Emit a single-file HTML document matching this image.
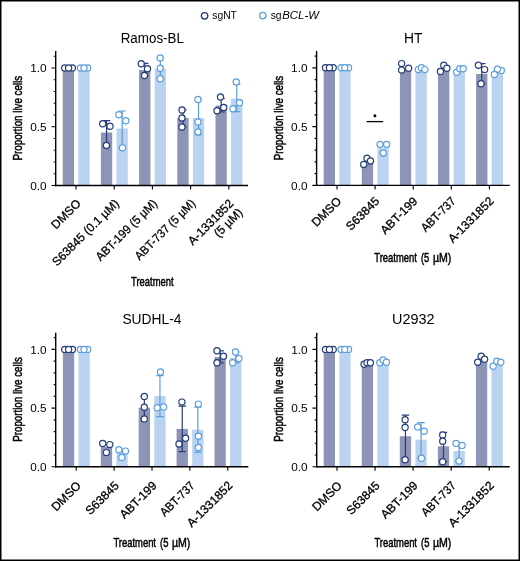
<!DOCTYPE html><html><head><meta charset="utf-8"><style>html,body{margin:0;padding:0;background:#fff;}svg{display:block;will-change:transform;}text{stroke:#000;stroke-width:0.3px;}.b{stroke-width:0.5px;}.n{stroke:none;}</style></head><body>
<svg width="520" height="561" viewBox="0 0 520 561" font-family='"Liberation Sans", sans-serif' fill="#000">
<rect x="0" y="0" width="520" height="561" fill="#fff"/>
<circle cx="204.6" cy="15.8" r="3.2" fill="#fff" stroke="#263e78" stroke-width="1.35"/>
<text x="212.3" y="19.3" font-size="10.3" class="n" textLength="24.6" lengthAdjust="spacingAndGlyphs">sgNT</text>
<circle cx="262.8" cy="15.6" r="3.2" fill="#fff" stroke="#5b9fdc" stroke-width="1.35"/>
<text x="270.7" y="19.3" font-size="10.3" class="n">sg</text>
<text x="282.3" y="19.3" font-size="10.3" class="n" font-style="italic" textLength="36.6" lengthAdjust="spacingAndGlyphs">BCL-W</text>
<text x="152.3" y="42.6" text-anchor="middle" font-size="13.8" class="n" textLength="63.2" lengthAdjust="spacingAndGlyphs">Ramos-BL</text>
<rect x="62.7" y="68" width="11.3" height="117.5" fill="#8e94b8"/>
<rect x="78.3" y="68" width="11.3" height="117.5" fill="#b9d3f0"/>
<rect x="100.9" y="132.5" width="11.3" height="53" fill="#8e94b8"/>
<rect x="116.5" y="128.5" width="11.3" height="57" fill="#b9d3f0"/>
<rect x="139.1" y="70" width="11.3" height="115.5" fill="#8e94b8"/>
<rect x="154.7" y="68.75" width="11.3" height="116.75" fill="#b9d3f0"/>
<rect x="177.3" y="118" width="11.3" height="67.5" fill="#8e94b8"/>
<rect x="192.9" y="118" width="11.3" height="67.5" fill="#b9d3f0"/>
<rect x="215.5" y="105.5" width="11.3" height="80" fill="#8e94b8"/>
<rect x="231.1" y="98.75" width="11.3" height="86.75" fill="#b9d3f0"/>
<path d="M106.55 120.57V145.5M102.85 120.57H110.25M102.85 145.5H110.25" stroke="#263e78" stroke-width="1.2" fill="none"/>
<path d="M122.15 110.98V147.7M118.45 110.98H125.85M118.45 147.7H125.85" stroke="#5b9fdc" stroke-width="1.2" fill="none"/>
<path d="M144.75 63.3V76M141.05 63.3H148.45M141.05 76H148.45" stroke="#263e78" stroke-width="1.2" fill="none"/>
<path d="M160.35 58V78.75M156.65 58H164.05M156.65 78.75H164.05" stroke="#5b9fdc" stroke-width="1.2" fill="none"/>
<path d="M182.95 110V127M179.25 110H186.65M179.25 127H186.65" stroke="#263e78" stroke-width="1.2" fill="none"/>
<path d="M198.55 99.5V134.65M194.85 99.5H202.25M194.85 134.65H202.25" stroke="#5b9fdc" stroke-width="1.2" fill="none"/>
<path d="M221.15 98.5V112M217.45 98.5H224.85M217.45 112H224.85" stroke="#263e78" stroke-width="1.2" fill="none"/>
<path d="M236.75 84.5V111.6M233.05 84.5H240.45M233.05 111.6H240.45" stroke="#5b9fdc" stroke-width="1.2" fill="none"/>
<circle cx="64.7" cy="68" r="3.1" fill="#fff" stroke="#263e78" stroke-width="1.2"/>
<circle cx="72.4" cy="68" r="3.1" fill="#fff" stroke="#263e78" stroke-width="1.2"/>
<circle cx="68.6" cy="68" r="3.1" fill="#fff" stroke="#263e78" stroke-width="1.2"/>
<circle cx="80.4" cy="68" r="3.1" fill="#fff" stroke="#5b9fdc" stroke-width="1.2"/>
<circle cx="87.7" cy="68" r="3.1" fill="#fff" stroke="#5b9fdc" stroke-width="1.2"/>
<circle cx="84" cy="68" r="3.1" fill="#fff" stroke="#5b9fdc" stroke-width="1.2"/>
<circle cx="102.7" cy="123.7" r="3.1" fill="#fff" stroke="#263e78" stroke-width="1.2"/>
<circle cx="110" cy="126.2" r="3.1" fill="#fff" stroke="#263e78" stroke-width="1.2"/>
<circle cx="106.4" cy="145.5" r="3.1" fill="#fff" stroke="#263e78" stroke-width="1.2"/>
<circle cx="118.8" cy="114.8" r="3.1" fill="#fff" stroke="#5b9fdc" stroke-width="1.2"/>
<circle cx="125.8" cy="120.8" r="3.1" fill="#fff" stroke="#5b9fdc" stroke-width="1.2"/>
<circle cx="122.5" cy="147.7" r="3.1" fill="#fff" stroke="#5b9fdc" stroke-width="1.2"/>
<circle cx="141.25" cy="63.75" r="3.1" fill="#fff" stroke="#263e78" stroke-width="1.2"/>
<circle cx="147.5" cy="68.75" r="3.1" fill="#fff" stroke="#263e78" stroke-width="1.2"/>
<circle cx="144.5" cy="75.5" r="3.1" fill="#fff" stroke="#263e78" stroke-width="1.2"/>
<circle cx="160.25" cy="58" r="3.1" fill="#fff" stroke="#5b9fdc" stroke-width="1.2"/>
<circle cx="160.25" cy="68.25" r="3.1" fill="#fff" stroke="#5b9fdc" stroke-width="1.2"/>
<circle cx="160.25" cy="78.75" r="3.1" fill="#fff" stroke="#5b9fdc" stroke-width="1.2"/>
<circle cx="182" cy="110" r="3.1" fill="#fff" stroke="#263e78" stroke-width="1.2"/>
<circle cx="182" cy="118" r="3.1" fill="#fff" stroke="#263e78" stroke-width="1.2"/>
<circle cx="182" cy="127" r="3.1" fill="#fff" stroke="#263e78" stroke-width="1.2"/>
<circle cx="198" cy="99.5" r="3.1" fill="#fff" stroke="#5b9fdc" stroke-width="1.2"/>
<circle cx="198" cy="122" r="3.1" fill="#fff" stroke="#5b9fdc" stroke-width="1.2"/>
<circle cx="198" cy="132" r="3.1" fill="#fff" stroke="#5b9fdc" stroke-width="1.2"/>
<circle cx="220.5" cy="97" r="3.1" fill="#fff" stroke="#263e78" stroke-width="1.2"/>
<circle cx="223.75" cy="107.5" r="3.1" fill="#fff" stroke="#263e78" stroke-width="1.2"/>
<circle cx="217" cy="110.75" r="3.1" fill="#fff" stroke="#263e78" stroke-width="1.2"/>
<circle cx="236.25" cy="82" r="3.1" fill="#fff" stroke="#5b9fdc" stroke-width="1.2"/>
<circle cx="239.5" cy="102.75" r="3.1" fill="#fff" stroke="#5b9fdc" stroke-width="1.2"/>
<circle cx="233" cy="108.75" r="3.1" fill="#fff" stroke="#5b9fdc" stroke-width="1.2"/>
<path d="M55.7 51V186.2" stroke="#000" stroke-width="1.4" fill="none"/>
<path d="M51.5 185.5H55.7M53.7 173.75H55.7M53.7 162H55.7M53.7 150.25H55.7M53.7 138.5H55.7M51.5 126.75H55.7M53.7 115H55.7M53.7 103.25H55.7M53.7 91.5H55.7M53.7 79.75H55.7M51.5 68H55.7M53.7 56.25H55.7" stroke="#000" stroke-width="1.1" fill="none"/>
<text x="46.6" y="72.1" text-anchor="end" font-size="11.8" class="n">1.0</text>
<text x="46.6" y="130.85" text-anchor="end" font-size="11.8" class="n">0.5</text>
<text x="46.6" y="189.6" text-anchor="end" font-size="11.8" class="n">0.0</text>
<path d="M55 185.5H248" stroke="#000" stroke-width="1.4" fill="none"/>
<path d="M76 185.5V189.5M114.2 185.5V189.5M152.4 185.5V189.5M190.6 185.5V189.5M228.8 185.5V189.5" stroke="#000" stroke-width="1.1" fill="none"/>
<text transform="translate(81.5 204.2) rotate(-45)" text-anchor="end" font-size="12">DMSO</text>
<text transform="translate(119.7 204.2) rotate(-45)" text-anchor="end" font-size="12" textLength="88.6" lengthAdjust="spacingAndGlyphs">S63845 (0.1 µM)</text>
<text transform="translate(157.9 204.2) rotate(-45)" text-anchor="end" font-size="12" textLength="81" lengthAdjust="spacingAndGlyphs">ABT-199 (5 µM)</text>
<text transform="translate(196.1 204.2) rotate(-45)" text-anchor="end" font-size="12" textLength="80" lengthAdjust="spacingAndGlyphs">ABT-737 (5 µM)</text>
<text transform="translate(234.3 204.2) rotate(-45)" text-anchor="end" font-size="12"><tspan x="0" y="0">A-1331852</tspan><tspan x="0" y="12.8">(5 µM)</tspan></text>
<text transform="translate(22.4 118.2) rotate(-90)" text-anchor="middle" font-size="13.2" textLength="84.5" lengthAdjust="spacingAndGlyphs" class="b">Proportion live cells</text>
<text x="131" y="285.8" textLength="42.6" font-size="13.4" lengthAdjust="spacingAndGlyphs" class="b">Treatment</text>
<text x="413.3" y="42.6" text-anchor="middle" font-size="13.8" class="n">HT</text>
<rect x="323.7" y="67.7" width="11.3" height="117.7" fill="#8e94b8"/>
<rect x="339.3" y="67.7" width="11.3" height="117.7" fill="#b9d3f0"/>
<rect x="361.8" y="164" width="11.3" height="21.4" fill="#8e94b8"/>
<rect x="377.4" y="148.3" width="11.3" height="37.1" fill="#b9d3f0"/>
<rect x="399.9" y="69.6" width="11.3" height="115.8" fill="#8e94b8"/>
<rect x="415.5" y="70.9" width="11.3" height="114.5" fill="#b9d3f0"/>
<rect x="438" y="70" width="11.3" height="115.4" fill="#8e94b8"/>
<rect x="453.6" y="70.9" width="11.3" height="114.5" fill="#b9d3f0"/>
<rect x="476.1" y="74" width="11.3" height="111.4" fill="#8e94b8"/>
<rect x="491.7" y="72.2" width="11.3" height="113.2" fill="#b9d3f0"/>
<path d="M481.75 63.6V83.8M478.05 63.6H485.45M478.05 83.8H485.45" stroke="#263e78" stroke-width="1.2" fill="none"/>
<circle cx="325.5" cy="67.7" r="3.1" fill="#fff" stroke="#263e78" stroke-width="1.2"/>
<circle cx="333.2" cy="67.7" r="3.1" fill="#fff" stroke="#263e78" stroke-width="1.2"/>
<circle cx="329.4" cy="67.7" r="3.1" fill="#fff" stroke="#263e78" stroke-width="1.2"/>
<circle cx="341.2" cy="67.7" r="3.1" fill="#fff" stroke="#5b9fdc" stroke-width="1.2"/>
<circle cx="348.5" cy="67.7" r="3.1" fill="#fff" stroke="#5b9fdc" stroke-width="1.2"/>
<circle cx="344.8" cy="67.7" r="3.1" fill="#fff" stroke="#5b9fdc" stroke-width="1.2"/>
<circle cx="363.7" cy="164.5" r="3.1" fill="#fff" stroke="#263e78" stroke-width="1.2"/>
<circle cx="367" cy="158.2" r="3.1" fill="#fff" stroke="#263e78" stroke-width="1.2"/>
<circle cx="370.5" cy="161" r="3.1" fill="#fff" stroke="#263e78" stroke-width="1.2"/>
<circle cx="380.1" cy="144.5" r="3.1" fill="#fff" stroke="#5b9fdc" stroke-width="1.2"/>
<circle cx="386.6" cy="144.5" r="3.1" fill="#fff" stroke="#5b9fdc" stroke-width="1.2"/>
<circle cx="383.2" cy="153" r="3.1" fill="#fff" stroke="#5b9fdc" stroke-width="1.2"/>
<circle cx="401.6" cy="63.6" r="3.1" fill="#fff" stroke="#263e78" stroke-width="1.2"/>
<circle cx="401.6" cy="70.1" r="3.1" fill="#fff" stroke="#263e78" stroke-width="1.2"/>
<circle cx="408.6" cy="68.3" r="3.1" fill="#fff" stroke="#263e78" stroke-width="1.2"/>
<circle cx="418.4" cy="69.6" r="3.1" fill="#fff" stroke="#5b9fdc" stroke-width="1.2"/>
<circle cx="421.5" cy="67.8" r="3.1" fill="#fff" stroke="#5b9fdc" stroke-width="1.2"/>
<circle cx="424.9" cy="69.6" r="3.1" fill="#fff" stroke="#5b9fdc" stroke-width="1.2"/>
<circle cx="440.4" cy="71.4" r="3.1" fill="#fff" stroke="#263e78" stroke-width="1.2"/>
<circle cx="443.8" cy="65.2" r="3.1" fill="#fff" stroke="#263e78" stroke-width="1.2"/>
<circle cx="446.9" cy="68.3" r="3.1" fill="#fff" stroke="#263e78" stroke-width="1.2"/>
<circle cx="456.7" cy="72.2" r="3.1" fill="#fff" stroke="#5b9fdc" stroke-width="1.2"/>
<circle cx="459.8" cy="68.8" r="3.1" fill="#fff" stroke="#5b9fdc" stroke-width="1.2"/>
<circle cx="463.2" cy="68.8" r="3.1" fill="#fff" stroke="#5b9fdc" stroke-width="1.2"/>
<circle cx="478.4" cy="65.2" r="3.1" fill="#fff" stroke="#263e78" stroke-width="1.2"/>
<circle cx="484.6" cy="69.6" r="3.1" fill="#fff" stroke="#263e78" stroke-width="1.2"/>
<circle cx="481" cy="83.8" r="3.1" fill="#fff" stroke="#263e78" stroke-width="1.2"/>
<circle cx="501.3" cy="70.4" r="3.1" fill="#fff" stroke="#5b9fdc" stroke-width="1.2"/>
<circle cx="497.4" cy="69.3" r="3.1" fill="#fff" stroke="#5b9fdc" stroke-width="1.2"/>
<circle cx="494.4" cy="74.5" r="3.1" fill="#fff" stroke="#5b9fdc" stroke-width="1.2"/>
<path d="M316.6 51V186.1" stroke="#000" stroke-width="1.4" fill="none"/>
<path d="M312.4 185.4H316.6M314.6 173.65H316.6M314.6 161.9H316.6M314.6 150.15H316.6M314.6 138.4H316.6M312.4 126.65H316.6M314.6 114.9H316.6M314.6 103.15H316.6M314.6 91.4H316.6M314.6 79.65H316.6M312.4 67.9H316.6M314.6 56.15H316.6" stroke="#000" stroke-width="1.1" fill="none"/>
<text x="307.5" y="72" text-anchor="end" font-size="11.8" class="n">1.0</text>
<text x="307.5" y="130.75" text-anchor="end" font-size="11.8" class="n">0.5</text>
<text x="307.5" y="189.5" text-anchor="end" font-size="11.8" class="n">0.0</text>
<path d="M315.9 185.4H509.8" stroke="#000" stroke-width="1.4" fill="none"/>
<path d="M337 185.4V189.4M375.1 185.4V189.4M413.2 185.4V189.4M451.3 185.4V189.4M489.4 185.4V189.4" stroke="#000" stroke-width="1.1" fill="none"/>
<text transform="translate(342 201.9) rotate(-45)" text-anchor="end" font-size="12">DMSO</text>
<text transform="translate(380.1 201.9) rotate(-45)" text-anchor="end" font-size="12">S63845</text>
<text transform="translate(418.2 201.9) rotate(-45)" text-anchor="end" font-size="12">ABT-199</text>
<text transform="translate(456.3 201.9) rotate(-45)" text-anchor="end" font-size="12" textLength="43.3" lengthAdjust="spacingAndGlyphs">ABT-737</text>
<text transform="translate(494.4 201.9) rotate(-45)" text-anchor="end" font-size="12">A-1331852</text>
<text transform="translate(283.3 118.1) rotate(-90)" text-anchor="middle" font-size="13.2" textLength="84.5" lengthAdjust="spacingAndGlyphs" class="b">Proportion live cells</text>
<text x="374.3" y="261.9" textLength="42.6" font-size="13.4" lengthAdjust="spacingAndGlyphs" class="b">Treatment</text>
<text x="420.9" y="261.9" textLength="8.4" font-size="13.4" lengthAdjust="spacingAndGlyphs" class="b">(5</text>
<text x="432.9" y="261.9" textLength="18.4" font-size="13.4" lengthAdjust="spacingAndGlyphs" class="b">µM)</text>
<path d="M366.6 121.6H383.2" stroke="#000" stroke-width="1.3"/>
<circle cx="374.9" cy="115.8" r="1.5" fill="#000"/>
<text x="151.9" y="324" text-anchor="middle" font-size="13.8" class="n">SUDHL-4</text>
<rect x="62.9" y="349.4" width="11.3" height="117.4" fill="#8e94b8"/>
<rect x="78.5" y="349.4" width="11.3" height="117.4" fill="#b9d3f0"/>
<rect x="100.8" y="446.9" width="11.3" height="19.9" fill="#8e94b8"/>
<rect x="116.4" y="451.7" width="11.3" height="15.1" fill="#b9d3f0"/>
<rect x="138.7" y="407.8" width="11.3" height="59" fill="#8e94b8"/>
<rect x="154.3" y="396.1" width="11.3" height="70.7" fill="#b9d3f0"/>
<rect x="176.6" y="428.9" width="11.3" height="37.9" fill="#8e94b8"/>
<rect x="192.2" y="429.7" width="11.3" height="37.1" fill="#b9d3f0"/>
<rect x="214.5" y="357.1" width="11.3" height="109.7" fill="#8e94b8"/>
<rect x="230.1" y="357.8" width="11.3" height="109" fill="#b9d3f0"/>
<path d="M144.35 396.4V418.9M140.65 396.4H148.05M140.65 418.9H148.05" stroke="#263e78" stroke-width="1.2" fill="none"/>
<path d="M159.95 375.63V416.57M156.25 375.63H163.65M156.25 416.57H163.65" stroke="#5b9fdc" stroke-width="1.2" fill="none"/>
<path d="M182.25 406.18V451.62M178.55 406.18H185.95M178.55 451.62H185.95" stroke="#263e78" stroke-width="1.2" fill="none"/>
<path d="M197.85 407.21V452.19M194.15 407.21H201.55M194.15 452.19H201.55" stroke="#5b9fdc" stroke-width="1.2" fill="none"/>
<path d="M220.15 350.8V362.8M216.45 350.8H223.85M216.45 362.8H223.85" stroke="#263e78" stroke-width="1.2" fill="none"/>
<path d="M235.75 351.9V362.8M232.05 351.9H239.45M232.05 362.8H239.45" stroke="#5b9fdc" stroke-width="1.2" fill="none"/>
<circle cx="64.7" cy="349.4" r="3.1" fill="#fff" stroke="#263e78" stroke-width="1.2"/>
<circle cx="72.4" cy="349.4" r="3.1" fill="#fff" stroke="#263e78" stroke-width="1.2"/>
<circle cx="68.6" cy="349.4" r="3.1" fill="#fff" stroke="#263e78" stroke-width="1.2"/>
<circle cx="80.4" cy="349.4" r="3.1" fill="#fff" stroke="#5b9fdc" stroke-width="1.2"/>
<circle cx="87.7" cy="349.4" r="3.1" fill="#fff" stroke="#5b9fdc" stroke-width="1.2"/>
<circle cx="84" cy="349.4" r="3.1" fill="#fff" stroke="#5b9fdc" stroke-width="1.2"/>
<circle cx="102.7" cy="443.4" r="3.1" fill="#fff" stroke="#263e78" stroke-width="1.2"/>
<circle cx="109.8" cy="444.6" r="3.1" fill="#fff" stroke="#263e78" stroke-width="1.2"/>
<circle cx="106.4" cy="452.6" r="3.1" fill="#fff" stroke="#263e78" stroke-width="1.2"/>
<circle cx="118.9" cy="449.7" r="3.1" fill="#fff" stroke="#5b9fdc" stroke-width="1.2"/>
<circle cx="125.5" cy="451.1" r="3.1" fill="#fff" stroke="#5b9fdc" stroke-width="1.2"/>
<circle cx="121.8" cy="457.4" r="3.1" fill="#fff" stroke="#5b9fdc" stroke-width="1.2"/>
<circle cx="144.3" cy="396.4" r="3.1" fill="#fff" stroke="#263e78" stroke-width="1.2"/>
<circle cx="144.3" cy="407.2" r="3.1" fill="#fff" stroke="#263e78" stroke-width="1.2"/>
<circle cx="144.3" cy="418.9" r="3.1" fill="#fff" stroke="#263e78" stroke-width="1.2"/>
<circle cx="160.5" cy="371.9" r="3.1" fill="#fff" stroke="#5b9fdc" stroke-width="1.2"/>
<circle cx="157.1" cy="407.8" r="3.1" fill="#fff" stroke="#5b9fdc" stroke-width="1.2"/>
<circle cx="163.6" cy="406.9" r="3.1" fill="#fff" stroke="#5b9fdc" stroke-width="1.2"/>
<circle cx="181.9" cy="402.1" r="3.1" fill="#fff" stroke="#263e78" stroke-width="1.2"/>
<circle cx="179" cy="444" r="3.1" fill="#fff" stroke="#263e78" stroke-width="1.2"/>
<circle cx="185.6" cy="438.3" r="3.1" fill="#fff" stroke="#263e78" stroke-width="1.2"/>
<circle cx="198.4" cy="404.1" r="3.1" fill="#fff" stroke="#5b9fdc" stroke-width="1.2"/>
<circle cx="198.4" cy="436.3" r="3.1" fill="#fff" stroke="#5b9fdc" stroke-width="1.2"/>
<circle cx="198.4" cy="447.4" r="3.1" fill="#fff" stroke="#5b9fdc" stroke-width="1.2"/>
<circle cx="217" cy="350.8" r="3.1" fill="#fff" stroke="#263e78" stroke-width="1.2"/>
<circle cx="223.5" cy="356.2" r="3.1" fill="#fff" stroke="#263e78" stroke-width="1.2"/>
<circle cx="217" cy="362.8" r="3.1" fill="#fff" stroke="#263e78" stroke-width="1.2"/>
<circle cx="235.5" cy="351.9" r="3.1" fill="#fff" stroke="#5b9fdc" stroke-width="1.2"/>
<circle cx="238.9" cy="358.5" r="3.1" fill="#fff" stroke="#5b9fdc" stroke-width="1.2"/>
<circle cx="232.6" cy="362.8" r="3.1" fill="#fff" stroke="#5b9fdc" stroke-width="1.2"/>
<path d="M55.7 332.8V467.5" stroke="#000" stroke-width="1.4" fill="none"/>
<path d="M51.5 466.8H55.7M53.7 455.06H55.7M53.7 443.32H55.7M53.7 431.58H55.7M53.7 419.84H55.7M51.5 408.1H55.7M53.7 396.36H55.7M53.7 384.62H55.7M53.7 372.88H55.7M53.7 361.14H55.7M51.5 349.4H55.7M53.7 337.66H55.7" stroke="#000" stroke-width="1.1" fill="none"/>
<text x="46.6" y="353.5" text-anchor="end" font-size="11.8" class="n">1.0</text>
<text x="46.6" y="412.2" text-anchor="end" font-size="11.8" class="n">0.5</text>
<text x="46.6" y="470.9" text-anchor="end" font-size="11.8" class="n">0.0</text>
<path d="M55 466.8H248.3" stroke="#000" stroke-width="1.4" fill="none"/>
<path d="M76.2 466.8V470.8M114.1 466.8V470.8M152 466.8V470.8M189.9 466.8V470.8M227.8 466.8V470.8" stroke="#000" stroke-width="1.1" fill="none"/>
<text transform="translate(81.7 486.3) rotate(-45)" text-anchor="end" font-size="12">DMSO</text>
<text transform="translate(119.6 486.3) rotate(-45)" text-anchor="end" font-size="12">S63845</text>
<text transform="translate(157.5 486.3) rotate(-45)" text-anchor="end" font-size="12">ABT-199</text>
<text transform="translate(195.4 486.3) rotate(-45)" text-anchor="end" font-size="12" textLength="43.3" lengthAdjust="spacingAndGlyphs">ABT-737</text>
<text transform="translate(233.3 486.3) rotate(-45)" text-anchor="end" font-size="12">A-1331852</text>
<text transform="translate(22.4 399.5) rotate(-90)" text-anchor="middle" font-size="13.2" textLength="84.5" lengthAdjust="spacingAndGlyphs" class="b">Proportion live cells</text>
<text x="113.4" y="546.5" textLength="42.6" font-size="13.4" lengthAdjust="spacingAndGlyphs" class="b">Treatment</text>
<text x="160" y="546.5" textLength="8.4" font-size="13.4" lengthAdjust="spacingAndGlyphs" class="b">(5</text>
<text x="172" y="546.5" textLength="18.4" font-size="13.4" lengthAdjust="spacingAndGlyphs" class="b">µM)</text>
<text x="413.3" y="324.2" text-anchor="middle" font-size="13.8" class="n" textLength="42.5" lengthAdjust="spacingAndGlyphs">U2932</text>
<rect x="323.7" y="349.4" width="11.3" height="117.4" fill="#8e94b8"/>
<rect x="339.3" y="349.4" width="11.3" height="117.4" fill="#b9d3f0"/>
<rect x="361.75" y="363.3" width="11.3" height="103.5" fill="#8e94b8"/>
<rect x="377.35" y="362.8" width="11.3" height="104" fill="#b9d3f0"/>
<rect x="399.8" y="436.3" width="11.3" height="30.5" fill="#8e94b8"/>
<rect x="415.4" y="439.7" width="11.3" height="27.1" fill="#b9d3f0"/>
<rect x="437.85" y="446.3" width="11.3" height="20.5" fill="#8e94b8"/>
<rect x="453.45" y="451.1" width="11.3" height="15.7" fill="#b9d3f0"/>
<rect x="475.9" y="360.5" width="11.3" height="106.3" fill="#8e94b8"/>
<rect x="491.5" y="364.2" width="11.3" height="102.6" fill="#b9d3f0"/>
<path d="M405.45 415.13V459.7M401.75 415.13H409.15M401.75 459.7H409.15" stroke="#263e78" stroke-width="1.2" fill="none"/>
<path d="M421.05 422.68V458.3M417.35 422.68H424.75M417.35 458.3H424.75" stroke="#5b9fdc" stroke-width="1.2" fill="none"/>
<path d="M443.5 432.29V461.7M439.8 432.29H447.2M439.8 461.7H447.2" stroke="#263e78" stroke-width="1.2" fill="none"/>
<path d="M459.1 443.4V461.1M455.4 443.4H462.8M455.4 461.1H462.8" stroke="#5b9fdc" stroke-width="1.2" fill="none"/>
<circle cx="325.5" cy="349.4" r="3.1" fill="#fff" stroke="#263e78" stroke-width="1.2"/>
<circle cx="333.2" cy="349.4" r="3.1" fill="#fff" stroke="#263e78" stroke-width="1.2"/>
<circle cx="329.4" cy="349.4" r="3.1" fill="#fff" stroke="#263e78" stroke-width="1.2"/>
<circle cx="341.2" cy="349.4" r="3.1" fill="#fff" stroke="#5b9fdc" stroke-width="1.2"/>
<circle cx="348.5" cy="349.4" r="3.1" fill="#fff" stroke="#5b9fdc" stroke-width="1.2"/>
<circle cx="344.8" cy="349.4" r="3.1" fill="#fff" stroke="#5b9fdc" stroke-width="1.2"/>
<circle cx="364.1" cy="364.2" r="3.1" fill="#fff" stroke="#263e78" stroke-width="1.2"/>
<circle cx="367" cy="362.8" r="3.1" fill="#fff" stroke="#263e78" stroke-width="1.2"/>
<circle cx="370.4" cy="362.8" r="3.1" fill="#fff" stroke="#263e78" stroke-width="1.2"/>
<circle cx="379.8" cy="362.8" r="3.1" fill="#fff" stroke="#5b9fdc" stroke-width="1.2"/>
<circle cx="383.2" cy="359.9" r="3.1" fill="#fff" stroke="#5b9fdc" stroke-width="1.2"/>
<circle cx="386.4" cy="362.2" r="3.1" fill="#fff" stroke="#5b9fdc" stroke-width="1.2"/>
<circle cx="405.1" cy="419.8" r="3.1" fill="#fff" stroke="#263e78" stroke-width="1.2"/>
<circle cx="405.1" cy="427.5" r="3.1" fill="#fff" stroke="#263e78" stroke-width="1.2"/>
<circle cx="405.1" cy="459.7" r="3.1" fill="#fff" stroke="#263e78" stroke-width="1.2"/>
<circle cx="417.7" cy="426.9" r="3.1" fill="#fff" stroke="#5b9fdc" stroke-width="1.2"/>
<circle cx="424.2" cy="431.2" r="3.1" fill="#fff" stroke="#5b9fdc" stroke-width="1.2"/>
<circle cx="421.4" cy="458.3" r="3.1" fill="#fff" stroke="#5b9fdc" stroke-width="1.2"/>
<circle cx="442.7" cy="434.9" r="3.1" fill="#fff" stroke="#263e78" stroke-width="1.2"/>
<circle cx="442.7" cy="441.2" r="3.1" fill="#fff" stroke="#263e78" stroke-width="1.2"/>
<circle cx="442.7" cy="461.7" r="3.1" fill="#fff" stroke="#263e78" stroke-width="1.2"/>
<circle cx="456.1" cy="443.4" r="3.1" fill="#fff" stroke="#5b9fdc" stroke-width="1.2"/>
<circle cx="462.1" cy="445.4" r="3.1" fill="#fff" stroke="#5b9fdc" stroke-width="1.2"/>
<circle cx="459" cy="461.1" r="3.1" fill="#fff" stroke="#5b9fdc" stroke-width="1.2"/>
<circle cx="477.7" cy="362.3" r="3.1" fill="#fff" stroke="#263e78" stroke-width="1.2"/>
<circle cx="481.2" cy="356.2" r="3.1" fill="#fff" stroke="#263e78" stroke-width="1.2"/>
<circle cx="484.6" cy="359.2" r="3.1" fill="#fff" stroke="#263e78" stroke-width="1.2"/>
<circle cx="493.1" cy="366.2" r="3.1" fill="#fff" stroke="#5b9fdc" stroke-width="1.2"/>
<circle cx="496.9" cy="361.2" r="3.1" fill="#fff" stroke="#5b9fdc" stroke-width="1.2"/>
<circle cx="500.8" cy="362.3" r="3.1" fill="#fff" stroke="#5b9fdc" stroke-width="1.2"/>
<path d="M316.7 332.8V467.5" stroke="#000" stroke-width="1.4" fill="none"/>
<path d="M312.5 466.8H316.7M314.7 455.06H316.7M314.7 443.32H316.7M314.7 431.58H316.7M314.7 419.84H316.7M312.5 408.1H316.7M314.7 396.36H316.7M314.7 384.62H316.7M314.7 372.88H316.7M314.7 361.14H316.7M312.5 349.4H316.7M314.7 337.66H316.7" stroke="#000" stroke-width="1.1" fill="none"/>
<text x="307.6" y="353.5" text-anchor="end" font-size="11.8" class="n">1.0</text>
<text x="307.6" y="412.2" text-anchor="end" font-size="11.8" class="n">0.5</text>
<text x="307.6" y="470.9" text-anchor="end" font-size="11.8" class="n">0.0</text>
<path d="M316 466.8H509.7" stroke="#000" stroke-width="1.4" fill="none"/>
<path d="M337 466.8V470.8M375.05 466.8V470.8M413.1 466.8V470.8M451.15 466.8V470.8M489.2 466.8V470.8" stroke="#000" stroke-width="1.1" fill="none"/>
<text transform="translate(342.5 486.3) rotate(-45)" text-anchor="end" font-size="12">DMSO</text>
<text transform="translate(380.55 486.3) rotate(-45)" text-anchor="end" font-size="12">S63845</text>
<text transform="translate(418.6 486.3) rotate(-45)" text-anchor="end" font-size="12">ABT-199</text>
<text transform="translate(456.65 486.3) rotate(-45)" text-anchor="end" font-size="12" textLength="43.3" lengthAdjust="spacingAndGlyphs">ABT-737</text>
<text transform="translate(494.7 486.3) rotate(-45)" text-anchor="end" font-size="12">A-1331852</text>
<text transform="translate(283.4 399.5) rotate(-90)" text-anchor="middle" font-size="13.2" textLength="84.5" lengthAdjust="spacingAndGlyphs" class="b">Proportion live cells</text>
<text x="374.4" y="546.8" textLength="42.6" font-size="13.4" lengthAdjust="spacingAndGlyphs" class="b">Treatment</text>
<text x="421" y="546.8" textLength="8.4" font-size="13.4" lengthAdjust="spacingAndGlyphs" class="b">(5</text>
<text x="433" y="546.8" textLength="18.4" font-size="13.4" lengthAdjust="spacingAndGlyphs" class="b">µM)</text>
<rect x="0.75" y="0.75" width="518.5" height="559.5" fill="none" stroke="#000" stroke-width="1.5"/>
</svg></body></html>
